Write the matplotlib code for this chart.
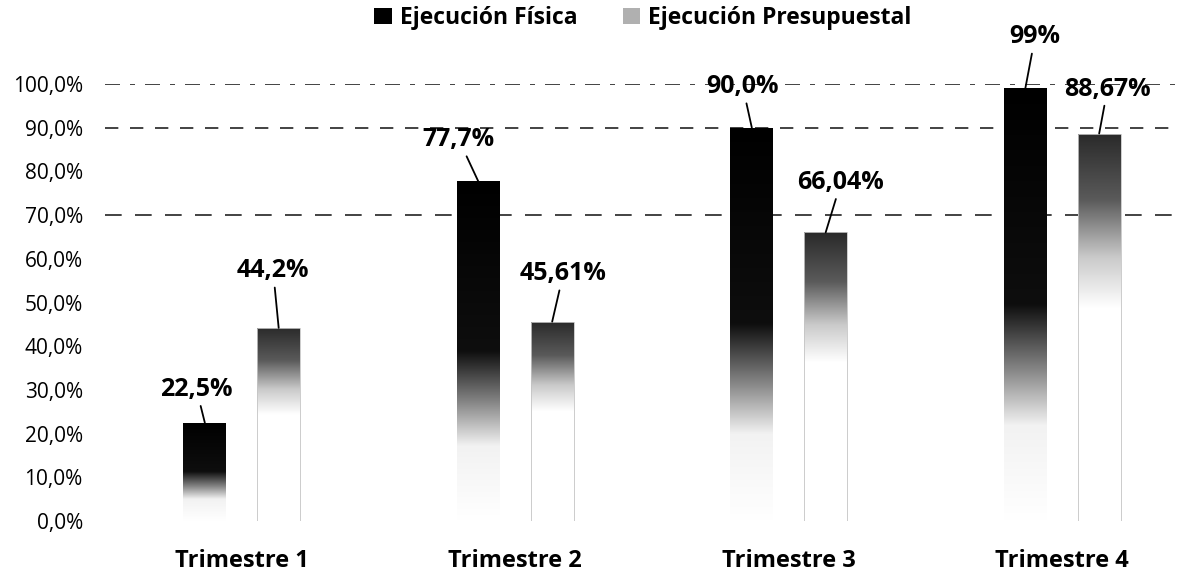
import numpy as np
import matplotlib.pyplot as plt
from matplotlib.colors import LinearSegmentedColormap
from matplotlib.patches import Patch

plt.rcParams['font.family'] = ['Open Sans', 'DejaVu Sans']

#%% data
trimestres   = ["Trimestre 1", "Trimestre 2", "Trimestre 3", "Trimestre 4"]
ej_fisica    = [22.5, 77.7, 90.0, 99.0]
ej_presup    = [44.2, 45.61, 66.04, 88.67]
lbl_fisica   = ["22,5%", "77,7%", "90,0%", "99%"]
lbl_presup   = ["44,2%", "45,61%", "66,04%", "88,67%"]
yticks       = np.arange(0, 101, 10)

# label offsets (points) from the top of each bar
off_fisica = [(-6, 24), (-14, 30), (-6.5, 29.5), (7, 37)]
off_presup = [(-4, 41), (8, 34.5), (11, 36), (6, 32)]

#%% gradients, dark on top fading to white at the base
cmap_fis = LinearSegmentedColormap.from_list(
    "fis", [(0.0, "#ffffff"), (0.22, "#f2f2f2"), (0.35, "#858585"),
            (0.5, "#0e0e0e"), (1.0, "#000000")])
cmap_pre = LinearSegmentedColormap.from_list(
    "pre", [(0.0, "#ffffff"), (0.55, "#ffffff"), (0.68, "#cacaca"),
            (0.83, "#5a5a5a"), (1.0, "#2a2a2a")])

fig = plt.figure(figsize=(11.77, 5.71), dpi=100)
# plot area runs past the right edge of the figure
ax = fig.add_axes([105/1177, 50/571, 1094/1177, 437/571])

x = np.arange(len(trimestres))
w = 0.157
b1 = ax.bar(x - 0.135, ej_fisica, w, facecolor='none', edgecolor='none', zorder=3)
b2 = ax.bar(x + 0.135, ej_presup, w, facecolor='none', edgecolor='#c4c4c4',
            linewidth=0.6, zorder=3)

grad = np.linspace(0, 1, 256).reshape(-1, 1)
for bars, cm in ((b1, cmap_fis), (b2, cmap_pre)):
    for p in bars:
        x0, y0 = p.get_x(), p.get_y()
        im = ax.imshow(grad, cmap=cm, origin='lower', aspect='auto',
                       extent=[x0, x0 + p.get_width(), y0, y0 + p.get_height()],
                       zorder=2, interpolation='bilinear')
        im.set_clip_path(p)

# visible dashed grid lines
ax.axhline(100, color='#222222', lw=1.2, ls=(0, (9, 6, 3, 6)), zorder=1)
ax.axhline(90, color='#222222', lw=1.2, ls=(0, (8, 7)), zorder=1)
ax.axhline(70, color='#222222', lw=1.2, ls=(0, (10, 8)), zorder=1)

for bars, vals, lbls, offs in ((b1, ej_fisica, lbl_fisica, off_fisica),
                               (b2, ej_presup, lbl_presup, off_presup)):
    for p, v, t, o in zip(bars, vals, lbls, offs):
        ax.annotate(t, xy=(p.get_x() + p.get_width()/2, v), xytext=o,
                    textcoords='offset points', ha='center', va='center',
                    fontsize=18, fontweight='bold', annotation_clip=False,
                    arrowprops=dict(arrowstyle='-', lw=1.3, color='black',
                                    shrinkA=1, shrinkB=0))

ax.set_xlim(-0.5, 3.5)
ax.set_ylim(0, 100)
ax.set_xticks(x)
ax.set_xticklabels(trimestres, fontsize=17, fontweight='bold')
ax.set_yticks(yticks)
ax.set_yticklabels(["%d,0%%" % v for v in yticks], fontsize=15)
ax.tick_params(axis='both', length=0)
ax.tick_params(axis='x', pad=20)
ax.tick_params(axis='y', pad=16)
for s in ax.spines.values():
    s.set_visible(False)

handles = [Patch(facecolor='black'), Patch(facecolor='#b0b0b0')]
fig.legend(handles, ["Ejecución Física", "Ejecución Presupuestal"], ncol=2,
           loc='center', bbox_to_anchor=(643/1177, 1 - 18/571), frameon=False,
           prop={'size': 16.5, 'weight': 'bold'}, handlelength=0.75,
           handleheight=0.65, handletextpad=0.35, columnspacing=2.0)

fig.savefig('out.png', dpi=100)
